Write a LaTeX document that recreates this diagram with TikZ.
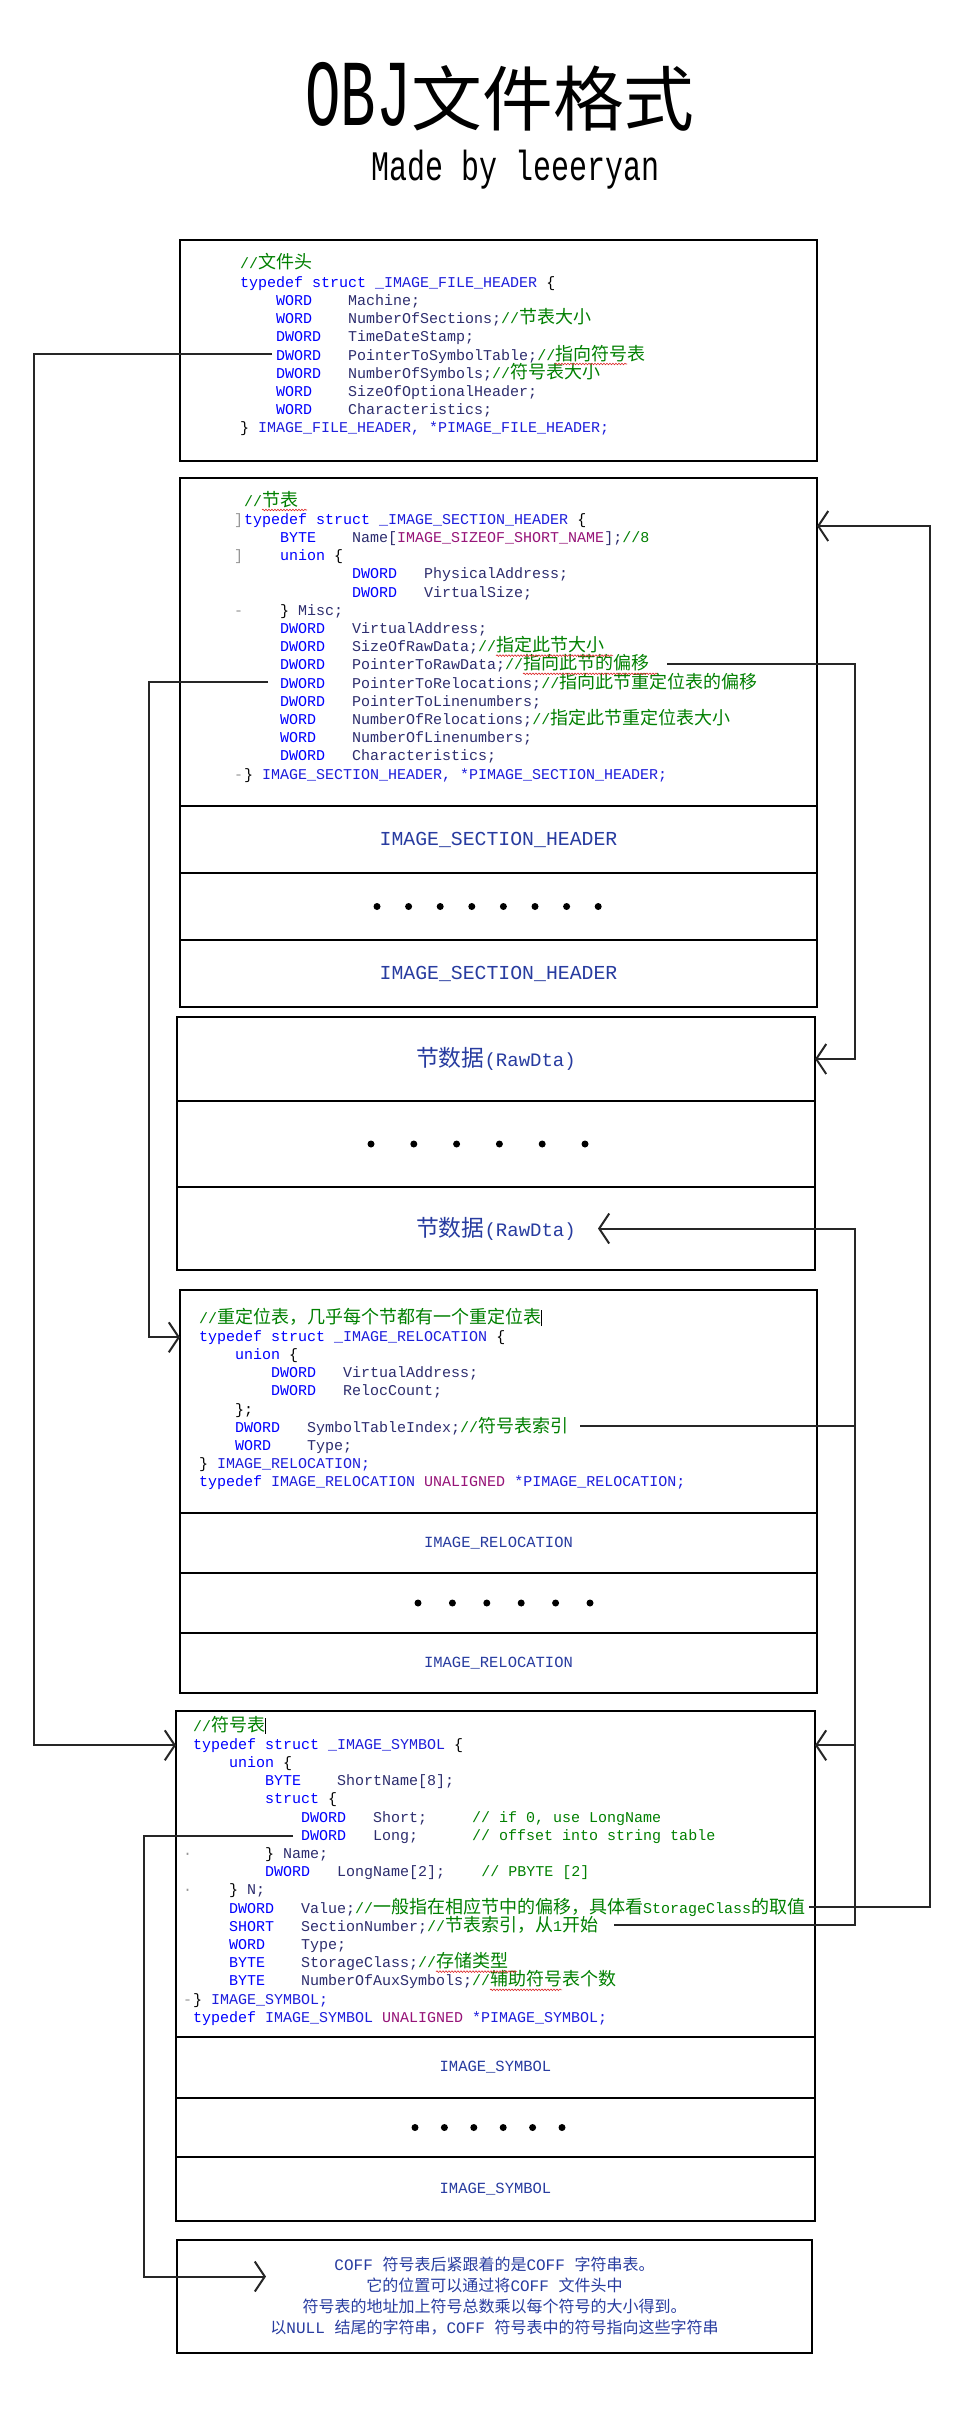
\documentclass[tikz,border=0pt]{standalone}
\usepackage{fontspec}
\usepackage{graphicx}
\setmonofont{Liberation Mono}
\newfontfamily\cjk[Scale=1.2]{Noto Sans CJK SC}
\newfontfamily\cjkflat{Noto Sans CJK SC}
\usetikzlibrary{arrows.meta,calc,positioning,decorations.pathmorphing}
\definecolor{CodeKey}{RGB}{0,0,255}
\definecolor{CodeType}{RGB}{30,30,220}
\definecolor{CodeField}{RGB}{45,45,110}
\definecolor{CodeNote}{RGB}{0,128,0}
\definecolor{CodeMacro}{RGB}{150,20,120}
\definecolor{LabelBlue}{RGB}{40,60,160}
\definecolor{MarkGray}{RGB}{150,150,150}
\definecolor{SpellRed}{RGB}{220,40,40}
\newcommand\ckey[1]{\textcolor{CodeKey}{#1}}
\newcommand\ctype[1]{\textcolor{CodeType}{#1}}
\newcommand\cfield[1]{\textcolor{CodeField}{#1}}
\newcommand\cnote[1]{\textcolor{CodeNote}{#1}}
\newcommand\cmacro[1]{\textcolor{CodeMacro}{#1}}
\newcommand\zh[1]{{\cjk #1}}
\newcommand\zhf[1]{{\cjkflat #1}}
\newcommand\cursorbar{{\color{black}\rule[-3pt]{1pt}{16pt}}}
\newcommand\codefont{\ttfamily\fontsize{15}{18}\selectfont\frenchspacing}

\begin{document}
\begin{tikzpicture}[x=1pt,y=-1pt,
  rowbox/.style={draw,line width=1.3pt,inner sep=0pt,outer sep=0pt,minimum width=637pt},
  codeline/.style={anchor=base west,inner sep=0pt,font=\codefont},
  bigtag/.style={font=\ttfamily\fontsize{19.8}{20}\selectfont,text=LabelBlue},
  smalltag/.style={font=\ttfamily\fontsize{15.5}{16}\selectfont,text=LabelBlue},
  conn/.style={line width=2pt,draw=black!85},
  barb/.style={-{Straight Barb[length=10pt,width=30pt]}},
  blob/.style={fill=black},
  squiggle/.style={SpellRed,line width=0.6pt,decorate,decoration={snake,amplitude=0.8pt,segment length=3pt}}]
\fill[white] (0,0) rectangle (976,2424);
\useasboundingbox (0,0) rectangle (976,2424);

% title
\node (title) at (500,97) {\ttfamily\fontsize{59}{59}\selectfont\scalebox{1}[1.6]{OBJ}\cjk 文件格式};
\node (author) at (516,170) {\ttfamily\fontsize{30}{30}\selectfont\scalebox{1}[1.4]{Made by leeeryan}};

% file header
\node[rowbox,minimum height=221pt] (fh) at (498.5,350.5) {};
\foreach \t [count=\i from 0] in {
  {\cnote{//\zh{文件头}}},
  {\ckey{typedef struct} \ctype{\_IMAGE\_FILE\_HEADER} \{},
  {~~~~\ckey{WORD}~~~~\cfield{Machine;}},
  {~~~~\ckey{WORD}~~~~\cfield{NumberOfSections;}\cnote{//\zh{节表大小}}},
  {~~~~\ckey{DWORD}~~~\cfield{TimeDateStamp;}},
  {~~~~\ckey{DWORD}~~~\cfield{PointerToSymbolTable;}\cnote{//\zh{指向符号表}}},
  {~~~~\ckey{DWORD}~~~\cfield{NumberOfSymbols;}\cnote{//\zh{符号表大小}}},
  {~~~~\ckey{WORD}~~~~\cfield{SizeOfOptionalHeader;}},
  {~~~~\ckey{WORD}~~~~\cfield{Characteristics;}},
  {\} \ctype{IMAGE\_FILE\_HEADER, *PIMAGE\_FILE\_HEADER;}}}
  \node[codeline] (fh\i) at (240,{269+18.2*\i}) {\t};
\draw[squiggle] ($(fh5.base west)+(315,4)$) -- ++(72,0);

% section headers
\node[rowbox,minimum height=328pt] (sh) at (498.5,642) {};
\node[rowbox,bigtag,minimum height=67pt,below=0pt of sh] (hr1) {IMAGE\_SECTION\_HEADER};
\node[rowbox,minimum height=67pt,below=0pt of hr1] (hr2) {};
\node[rowbox,bigtag,minimum height=67pt,below=0pt of hr2] (hr3) {IMAGE\_SECTION\_HEADER};
\foreach \k in {0,...,7}
  \fill[blob] ($(hr2.center)+({-121.5+31.6*\k},0)$) circle (3.5pt);
\foreach \t [count=\i from 0] in {
  {\cnote{//\zh{节表}}},
  {\ckey{typedef struct} \ctype{\_IMAGE\_SECTION\_HEADER} \{},
  {~~~~\ckey{BYTE}~~~~\cfield{Name[}\cmacro{IMAGE\_SIZEOF\_SHORT\_NAME}\cfield{];}\cnote{//8}},
  {~~~~\ckey{union} \{},
  {~~~~~~~~~~~~\ckey{DWORD}~~~\cfield{PhysicalAddress;}},
  {~~~~~~~~~~~~\ckey{DWORD}~~~\cfield{VirtualSize;}},
  {~~~~\} \cfield{Misc;}},
  {~~~~\ckey{DWORD}~~~\cfield{VirtualAddress;}},
  {~~~~\ckey{DWORD}~~~\cfield{SizeOfRawData;}\cnote{//\zh{指定此节大小}}},
  {~~~~\ckey{DWORD}~~~\cfield{PointerToRawData;}\cnote{//\zh{指向此节的偏移}}},
  {~~~~\ckey{DWORD}~~~\cfield{PointerToRelocations;}\cnote{//\zh{指向此节重定位表的偏移}}},
  {~~~~\ckey{DWORD}~~~\cfield{PointerToLinenumbers;}},
  {~~~~\ckey{WORD}~~~~\cfield{NumberOfRelocations;}\cnote{//\zh{指定此节重定位表大小}}},
  {~~~~\ckey{WORD}~~~~\cfield{NumberOfLinenumbers;}},
  {~~~~\ckey{DWORD}~~~\cfield{Characteristics;}},
  {\} \ctype{IMAGE\_SECTION\_HEADER, *PIMAGE\_SECTION\_HEADER;}}}
  \node[codeline] (sh\i) at (244,{506+18.2*\i}) {\t};
\foreach \m/\r in {]/1,]/3,-/6,-/15}
  \node[codeline,text=MarkGray] (shm\r) at (234,{506+18.2*\r}) {\m};
\draw[squiggle] ($(sh0.base west)+(18,4)$) -- ++(45,0);
\draw[squiggle] ($(sh8.base west)+(252,4)$) -- ++(117,0);
\draw[squiggle] ($(sh9.base west)+(279,4)$) -- ++(135,0);

% raw data
\node[rowbox,minimum width=638pt,minimum height=84pt,font=\ttfamily\fontsize{19}{20}\selectfont,text=LabelBlue] (rd1) at (496,1059) {\zh{节数据}(RawDta)};
\node[rowbox,minimum width=638pt,minimum height=86pt,below=0pt of rd1] (rd2) {};
\node[rowbox,minimum width=638pt,minimum height=83pt,below=0pt of rd2,font=\ttfamily\fontsize{19}{20}\selectfont,text=LabelBlue] (rd3) {\zh{节数据}(RawDta)};
\foreach \k in {0,...,5}
  \fill[blob] ($(rd2.center)+({-125+42.8*\k},0)$) circle (3.5pt);

% relocations
\node[rowbox,minimum height=223pt] (rl) at (498.5,1401.5) {};
\node[rowbox,smalltag,minimum height=60pt,below=0pt of rl] (rr1) {IMAGE\_RELOCATION};
\node[rowbox,minimum height=60pt,below=0pt of rr1] (rr2) {};
\node[rowbox,smalltag,minimum height=60pt,below=0pt of rr2] (rr3) {IMAGE\_RELOCATION};
\draw[line width=2pt] (rr2.north west) -- (rr2.north east) (rr2.south west) -- (rr2.south east);
\foreach \k in {0,...,5}
  \fill[blob] ($(rr2.center)+({-80.5+34.4*\k},0)$) circle (3.5pt);
\foreach \t [count=\i from 0] in {
  {\cnote{//\zh{重定位表，几乎每个节都有一个重定位表}}\cursorbar},
  {\ckey{typedef struct} \ctype{\_IMAGE\_RELOCATION} \{},
  {~~~~\ckey{union} \{},
  {~~~~~~~~\ckey{DWORD}~~~\cfield{VirtualAddress;}},
  {~~~~~~~~\ckey{DWORD}~~~\cfield{RelocCount;}},
  {~~~~\};},
  {~~~~\ckey{DWORD}~~~\cfield{SymbolTableIndex;}\cnote{//\zh{符号表索引}}},
  {~~~~\ckey{WORD}~~~~\cfield{Type;}},
  {\} \ctype{IMAGE\_RELOCATION;}},
  {\ckey{typedef} \ctype{IMAGE\_RELOCATION} \cmacro{UNALIGNED} \ctype{*PIMAGE\_RELOCATION;}}}
  \node[codeline] (rl\i) at (199,{1323+18.2*\i}) {\t};

% symbols
\node[rowbox,minimum width=639pt,minimum height=326pt] (sy) at (495.5,1874) {};
\node[rowbox,smalltag,minimum width=639pt,minimum height=61pt,below=0pt of sy] (yr1) {IMAGE\_SYMBOL};
\node[rowbox,minimum width=639pt,minimum height=59pt,below=0pt of yr1] (yr2) {};
\node[rowbox,smalltag,minimum width=639pt,minimum height=64pt,below=0pt of yr2] (yr3) {IMAGE\_SYMBOL};
\draw[line width=2pt] (yr1.north west) -- (yr1.north east);
\foreach \k in {0,...,5}
  \fill[blob] ($(yr2.center)+({-80.5+29.4*\k},0)$) circle (3.5pt);
\foreach \t [count=\i from 0] in {
  {\cnote{//\zh{符号表}}\cursorbar},
  {\ckey{typedef struct} \ctype{\_IMAGE\_SYMBOL} \{},
  {~~~~\ckey{union} \{},
  {~~~~~~~~\ckey{BYTE}~~~~\cfield{ShortName[8];}},
  {~~~~~~~~\ckey{struct} \{},
  {~~~~~~~~~~~~\ckey{DWORD}~~~\cfield{Short;}~~~~~\cnote{// if 0, use LongName}},
  {~~~~~~~~~~~~\ckey{DWORD}~~~\cfield{Long;}~~~~~~\cnote{// offset into string table}},
  {~~~~~~~~\} \cfield{Name;}},
  {~~~~~~~~\ckey{DWORD}~~~\cfield{LongName[2];}~~~~\cnote{// PBYTE [2]}},
  {~~~~\} \cfield{N;}},
  {~~~~\ckey{DWORD}~~~\cfield{Value;}\cnote{//\zh{一般指在相应节中的偏移，具体看}StorageClass\zh{的取值}}},
  {~~~~\ckey{SHORT}~~~\cfield{SectionNumber;}\cnote{//\zh{节表索引，从}1\zh{开始}}},
  {~~~~\ckey{WORD}~~~~\cfield{Type;}},
  {~~~~\ckey{BYTE}~~~~\cfield{StorageClass;}\cnote{//\zh{存储类型}}},
  {~~~~\ckey{BYTE}~~~~\cfield{NumberOfAuxSymbols;}\cnote{//\zh{辅助符号表个数}}},
  {\} \ctype{IMAGE\_SYMBOL;}},
  {\ckey{typedef} \ctype{IMAGE\_SYMBOL} \cmacro{UNALIGNED} \ctype{*PIMAGE\_SYMBOL;}}}
  \node[codeline] (sy\i) at (193,{1731+18.2*\i}) {\t};
\foreach \m/\r in {·/7,·/9,-/15}
  \node[codeline,text=MarkGray] (sym\r) at (183,{1731+18.2*\r}) {\m};
\draw[squiggle] ($(sy13.base west)+(243,4)$) -- ++(81,0);
\draw[squiggle] ($(sy14.base west)+(297,4)$) -- ++(72,0);

% string table
\node[rowbox,minimum width=635pt,minimum height=113pt,align=center,font=\ttfamily\fontsize{16}{21}\selectfont,text=LabelBlue] (coff) at (494.5,2296.5)
  {COFF \zhf{符号表后紧跟着的是}COFF \zhf{字符串表。}\\
   \zhf{它的位置可以通过将}COFF \zhf{文件头中}\\
   \zhf{符号表的地址加上符号总数乘以每个符号的大小得到。}\\
   \zhf{以}NULL \zhf{结尾的字符串，}COFF \zhf{符号表中的符号指向这些字符串}};

% rails
\coordinate (railL) at (34,0);
\coordinate (railM) at (149,0);
\coordinate (railB) at (144,0);
\coordinate (railR) at (855,0);
\coordinate (railO) at (930,0);
\coordinate (coffin) at ($(coff.west)+(89,-20)$);
\coordinate (rawtip) at ($(rd3.center)+(102,0)$);
\coordinate (shtip) at ($(sh.north east)+(0,48)$);

% pointers
\draw[conn,barb] ($(fh5.west)+(32,0)$) -- (railL |- fh5.west) -- (railL |- sy1.west) -- (sy.west |- sy1.west);
\draw[conn,barb] ($(sh10.west)+(24,0)$) -- (railM |- sh10.west) -- (railM |- rl1.west) -- (rl.west |- rl1.west);
\draw[conn,barb] ($(sy6.west)+(100,0)$) -- (railB |- sy6.west) -- (railB |- coffin) -- (coffin);
\draw[conn,barb] ($(sh9.east)+(18,0)$) -- (railR |- sh9.east) -- (railR |- rd1.east) -- (rd1.east);
\draw[conn,barb] ($(rl6.east)+(12,0)$) -- (railR |- rl6.east) -- (railR |- sy1.east) -- (sy.east |- sy1.east);
\draw[conn,barb] ($(sy11.east)+(16,0)$) -- (railR |- sy11.east) -- (railR |- rawtip) -- (rawtip);
\draw[conn,barb] ($(sy10.east)+(4,0)$) -- (railO |- sy10.east) -- (railO |- shtip) -- (shtip);
\end{tikzpicture}
\end{document}
